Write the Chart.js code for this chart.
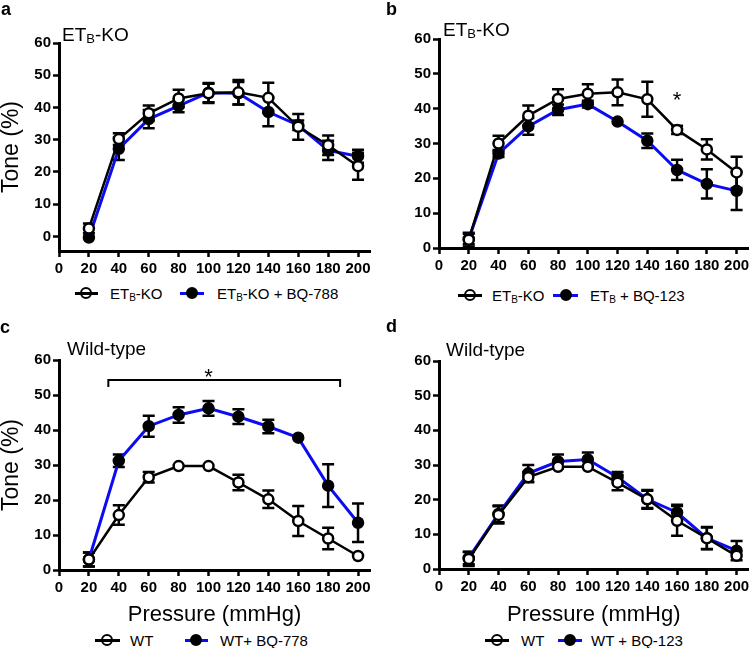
<!DOCTYPE html>
<html>
<head>
<meta charset="utf-8">
<script src="https://cdn.jsdelivr.net/npm/chart.js@4.4.0/dist/chart.umd.min.js"></script>
<style>
  body { margin: 0; background: #fff; font-family: "Liberation Sans", Arial, sans-serif; }
  #wrap { position: relative; width: 756px; height: 648px; overflow: hidden; background: #fff; }
  canvas { position: absolute; }
  .txt { position: absolute; white-space: nowrap; line-height: 1; color: #000; }
  .letter { font-size: 18px; font-weight: bold; }
  .title { font-size: 19px; }
  .title .sb { font-size: 13px; position: relative; top: 2px; }
  .lg { font-size: 15px; }
  .lg .sb { font-size: 10px; position: relative; top: 2px; }
  .lg-line { position: absolute; height: 3px; }
  .lg-dot { position: absolute; width: 12px; height: 12px; border-radius: 50%; box-sizing: border-box; border: 2.5px solid #000; }
</style>
</head>
<body>
<div id="wrap">
  <canvas id="chart-a" width="378" height="285" style="left:0;top:0"></canvas>
  <canvas id="chart-b" width="378" height="285" style="left:378px;top:0"></canvas>
  <canvas id="chart-c" width="378" height="306" style="left:0;top:320px"></canvas>
  <canvas id="chart-d" width="378" height="306" style="left:378px;top:320px"></canvas>

  <div class="txt letter" style="left:1px;top:0">a</div>
  <div class="txt letter" style="left:386px;top:0">b</div>
  <div class="txt letter" style="left:0;top:318px">c</div>
  <div class="txt letter" style="left:386px;top:317px">d</div>

  <div class="txt title" style="left:62px;top:25px">ET<span class="sb">B</span>-KO</div>
  <div class="txt title" style="left:443px;top:20px">ET<span class="sb">B</span>-KO</div>
  <div class="txt title" style="left:67px;top:339px">Wild-type</div>
  <div class="txt title" style="left:446px;top:340px">Wild-type</div>

  <!-- legends -->
  <div class="lg-dot" style="left:80px;top:287px;background:#fff"></div>
  <div class="lg-line" style="left:75px;top:292px;width:23px;background:#000"></div>
  <div class="txt lg" style="left:110px;top:286px">ET<span class="sb">B</span>-KO</div>
  <div class="lg-line" style="left:180px;top:292px;width:24px;background:#0c0cf2"></div>
  <div class="lg-dot" style="left:186px;top:287px;background:#000"></div>
  <div class="txt lg" style="left:217px;top:286px">ET<span class="sb">B</span>-KO + BQ-788</div>

  <div class="lg-dot" style="left:464px;top:289px;background:#fff"></div>
  <div class="lg-line" style="left:458px;top:294px;width:24px;background:#000"></div>
  <div class="txt lg" style="left:492px;top:288px">ET<span class="sb">B</span>-KO</div>
  <div class="lg-line" style="left:553px;top:294px;width:25px;background:#0c0cf2"></div>
  <div class="lg-dot" style="left:560px;top:289px;background:#000"></div>
  <div class="txt lg" style="left:590px;top:288px">ET<span class="sb">B</span> + BQ-123</div>

  <div class="lg-dot" style="left:101px;top:634px;background:#fff"></div>
  <div class="lg-line" style="left:95px;top:639px;width:25px;background:#000"></div>
  <div class="txt lg" style="left:130px;top:633px">WT</div>
  <div class="lg-line" style="left:185px;top:639px;width:23px;background:#0c0cf2"></div>
  <div class="lg-dot" style="left:190px;top:634px;background:#000"></div>
  <div class="txt lg" style="left:220px;top:633px">WT+ BQ-778</div>

  <div class="lg-dot" style="left:491px;top:634px;background:#fff"></div>
  <div class="lg-line" style="left:485px;top:639px;width:24px;background:#000"></div>
  <div class="txt lg" style="left:521px;top:633px">WT</div>
  <div class="lg-line" style="left:558px;top:639px;width:24px;background:#0c0cf2"></div>
  <div class="lg-dot" style="left:564px;top:634px;background:#000"></div>
  <div class="txt lg" style="left:591px;top:633px">WT + BQ-123</div>
</div>

<script>
  // データ
  const pressure = [20, 40, 60, 80, 100, 120, 140, 160, 180, 200];
  const xTicks = [0, 20, 40, 60, 80, 100, 120, 140, 160, 180, 200];
  const yTicks = [0, 10, 20, 30, 40, 50, 60];

  // a: ETB-KO vs ETB-KO + BQ-788
  const aKo = [2.5, 30.2, 38.2, 42.8, 44.4, 44.7, 43.0, 34.0, 28.3, 21.8];
  const aKoErr = [1.5, 1.8, 2.4, 2.7, 3.0, 3.8, 4.7, 4.0, 3.0, 4.2];
  const aBq788 = [-0.3, 27.2, 36.4, 40.5, 44.6, 44.4, 38.6, 34.5, 26.7, 24.9];
  const aBq788Err = [0, 3.5, 2.8, 2.0, 3.0, 3.5, 4.4, 1.5, 3.0, 2.0];

  // b: ETB-KO vs ETB + BQ-123
  const bKo = [2.4, 30.0, 38.0, 42.8, 44.3, 44.7, 42.7, 33.9, 28.3, 21.7];
  const bKoErr = [2.0, 2.2, 2.9, 2.8, 2.7, 3.7, 5.0, 1.2, 2.9, 4.5];
  const bBq123 = [2.6, 27.1, 34.9, 39.7, 41.3, 36.3, 30.8, 22.4, 18.4, 16.4];
  const bBq123Err = [1.5, 1.0, 2.4, 1.5, 1.0, 0, 2.1, 2.9, 4.2, 5.5];
  const bStar = { x: 160, y: 43.9 };

  // c: WT vs WT + BQ-778
  const cWt = [3.0, 15.7, 26.5, 29.7, 29.7, 25.0, 20.2, 14.0, 9.0, 4.0];
  const cWtErr = [2.0, 2.8, 1.5, 0, 0, 2.2, 2.5, 4.3, 3.1, 0];
  const cBq778 = [3.0, 31.2, 41.1, 44.3, 46.2, 43.8, 41.0, 37.8, 24.1, 13.5];
  const cBq778Err = [2.0, 1.8, 3.0, 2.2, 2.1, 2.1, 1.9, 0, 6.1, 5.5];
  const cBracketX = [33, 33, 188, 188];
  const cBracketY = [52.3, 54.3, 54.3, 52.3];
  const cStar = { x: 100, y: 56.6 };

  // d: WT vs WT + BQ-123
  const dWt = [2.9, 15.6, 26.5, 29.5, 29.5, 24.9, 20.1, 13.9, 8.9, 3.8];
  const dWtErr = [2.0, 2.5, 1.5, 0, 0, 2.2, 2.5, 4.3, 3.1, 0];
  const dBq123 = [3.2, 15.9, 27.6, 31.0, 31.6, 26.5, 20.1, 16.3, 8.9, 5.3];
  const dBq123Err = [1.8, 2.4, 2.4, 2.0, 2.0, 1.5, 2.7, 2.2, 3.2, 2.8];

  const BLUE = "#0c0cf2";
  const FONT = '"Liberation Sans", Arial, sans-serif';
  Chart.defaults.font.family = FONT;
  Chart.defaults.color = "#000";

  // エラーバー
  const errorBars = {
    id: "errorBars",
    beforeDatasetsDraw(chart) {
      const { ctx, scales: { x, y } } = chart;
      ctx.save();
      ctx.strokeStyle = "#000";
      ctx.lineWidth = 2.5;
      chart.data.datasets.forEach((ds) => {
        if (!ds.errors) return;
        ds.data.forEach((p, i) => {
          const e = ds.errors[i];
          if (!e) return;
          const px = x.getPixelForValue(p.x);
          const top = y.getPixelForValue(p.y + e);
          const bot = y.getPixelForValue(p.y - e);
          ctx.beginPath();
          ctx.moveTo(px, top);
          ctx.lineTo(px, bot);
          ctx.moveTo(px - 6, top);
          ctx.lineTo(px + 6, top);
          ctx.moveTo(px - 6, bot);
          ctx.lineTo(px + 6, bot);
          ctx.stroke();
        });
      });
      ctx.restore();
    },
  };

  // 有意差の *
  const starMark = {
    id: "starMark",
    afterDatasetsDraw(chart, args, opts) {
      if (opts.x === undefined) return;
      const { ctx, scales: { x, y } } = chart;
      ctx.save();
      ctx.font = "22px " + FONT;
      ctx.fillStyle = "#000";
      ctx.textAlign = "center";
      ctx.textBaseline = "alphabetic";
      ctx.fillText("*", x.getPixelForValue(opts.x), y.getPixelForValue(opts.y) + 12);
      ctx.restore();
    },
  };

  function series(values, errors, filled) {
    return {
      data: pressure.map((p, i) => ({ x: p, y: values[i] })),
      errors: errors,
      borderColor: filled ? BLUE : "#000",
      borderWidth: filled ? 3 : 2.5,
      pointRadius: 5,
      pointBorderWidth: 2.5,
      pointBackgroundColor: filled ? "#000" : "#fff",
      pointBorderColor: "#000",
      clip: false,
      order: filled ? 2 : 1,
    };
  }

  function createPanel(id, box, datasets, star) {
    const ctx = document.getElementById(id).getContext("2d");
    const axisGrid = {
      drawOnChartArea: false,
      drawTicks: true,
      tickLength: 6,
      tickWidth: 2.5,
      tickColor: "#000",
      color: "#000",
    };
    return new Chart(ctx, {
      type: "line",
      data: { datasets: datasets },
      options: {
        responsive: false,
        animation: false,
        devicePixelRatio: 1,
        layout: { padding: { left: 0, top: box.T, right: box.W - box.R, bottom: 0 } },
        scales: {
          x: {
            type: "linear",
            min: 0,
            max: 208,
            afterBuildTicks: (s) => {
              s.ticks = xTicks.map((v) => ({ value: v }));
            },
            afterFit: (s) => {
              s.height = box.H - box.B;
              s.paddingLeft = 0;
              s.paddingRight = 0;
            },
            ticks: {
              autoSkip: false,
              maxRotation: 0,
              padding: 3,
              color: "#000",
              font: { size: 15, weight: "bold" },
            },
            grid: axisGrid,
            border: { color: "#000", width: 3 },
            title: {
              display: !!box.xTitle,
              text: box.xTitle || "",
              color: "#000",
              font: { size: 22, lineHeight: 1 },
              padding: 0,
            },
          },
          y: {
            min: box.yMin,
            max: 60,
            afterBuildTicks: (s) => {
              s.ticks = yTicks.map((v) => ({ value: v }));
            },
            afterFit: (s) => {
              s.width = box.L;
              s.paddingTop = 0;
              s.paddingBottom = 0;
            },
            ticks: {
              padding: 2,
              color: "#000",
              font: { size: 15, weight: "bold" },
            },
            grid: axisGrid,
            border: { color: "#000", width: 3 },
            title: {
              display: !!box.yTitle,
              text: box.yTitle || "",
              color: "#000",
              font: { size: 23, lineHeight: 1 },
              padding: 0,
            },
          },
        },
        plugins: {
          legend: { display: false },
          tooltip: { enabled: false },
          starMark: star || {},
        },
      },
      plugins: [errorBars, starMark],
    });
  }

  createPanel(
    "chart-a",
    { L: 59, T: 43, R: 370, B: 251, W: 378, H: 285, yMin: -4.5, yTitle: "Tone (%)" },
    [series(aKo, aKoErr, false), series(aBq788, aBq788Err, true)]
  );

  createPanel(
    "chart-b",
    { L: 61, T: 39, R: 372, B: 248, W: 378, H: 285, yMin: 0 },
    [series(bKo, bKoErr, false), series(bBq123, bBq123Err, true)],
    bStar
  );

  createPanel(
    "chart-c",
    { L: 59, T: 40, R: 370, B: 250, W: 378, H: 306, yMin: 0, yTitle: "Tone (%)", xTitle: "Pressure (mmHg)" },
    [
      series(cWt, cWtErr, false),
      series(cBq778, cBq778Err, true),
      {
        data: cBracketX.map((v, i) => ({ x: v, y: cBracketY[i] })),
        borderColor: "#000",
        borderWidth: 2,
        pointRadius: 0,
        clip: false,
        order: 0,
      },
    ],
    cStar
  );

  createPanel(
    "chart-d",
    { L: 61, T: 41, R: 372, B: 249, W: 378, H: 306, yMin: 0, xTitle: "Pressure (mmHg)" },
    [series(dWt, dWtErr, false), series(dBq123, dBq123Err, true)]
  );
</script>
</body>
</html>
